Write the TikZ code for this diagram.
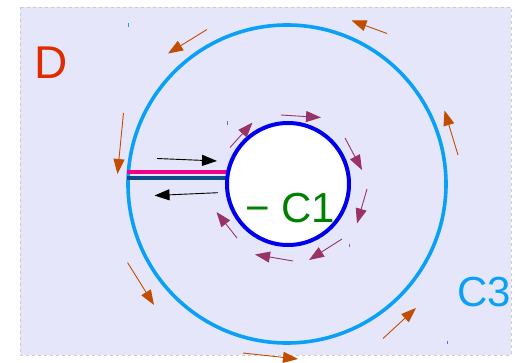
\documentclass[tikz,border=0pt]{standalone}
\usepackage{fontspec}
\setmainfont{Liberation Sans}
\usetikzlibrary{arrows.meta}
\definecolor{domainbg}{HTML}{E6E6FA}
\definecolor{outerblue}{HTML}{0AA0F5}
\definecolor{innerblue}{HTML}{0000EE}
\definecolor{cutnavy}{HTML}{104E8B}
\definecolor{innerflow}{HTML}{993366}
\definecolor{outerflow}{HTML}{C04D00}
\definecolor{labelred}{HTML}{E02B00}
\tikzset{
  flowarrow/.style={line width=0.9pt,-{Triangle[length=15pt,width=11pt]}},
  tinymark/.style={line width=1pt}
}
\begin{document}
\begin{tikzpicture}[x=1pt,y=-1pt]
    \useasboundingbox (0,0) rectangle (524,363);
    % Domain D
    \draw[dashed, draw=black!20, fill=domainbg] (20,7) rectangle (511,355);
    \node[text=labelred, font=\fontsize{46}{50}\selectfont] (labD) at (51,63) {D};

    % Outer contour C3
    \draw[outerblue, line width=3.6pt] (287,184) circle (159);
    \node[text=outerblue, font=\fontsize{42}{48}\selectfont] (labC) at (484,292) {C3};

    % Cut joining the two contours
    \draw[magenta, line width=3.6pt] (127,172.3) -- (227,172.3);
    \draw[cutnavy, line width=3.6pt] (127,177.8) -- (227,177.8);

    % Inner contour C1
    \draw[innerblue, fill=white, line width=4pt] (288,184) circle (61);
    \node[text=green!50!black, font=\fontsize{42}{48}\selectfont] (labA) at (290,208) {\textminus\ C1};

    % Orientation along the cut
    \draw[flowarrow, black] (157,158.5) -- (217,161);
    \draw[flowarrow, black] (218,192.7) -- (154.5,195.5);

    % Orientation of C1 (clockwise)
    \draw[flowarrow, innerflow] (281,115) -- (321,117.5);
    \draw[flowarrow, innerflow] (345,138) -- (362,170);
    \draw[flowarrow, innerflow] (367,189) -- (357,223.5);
    \draw[flowarrow, innerflow] (342,239) -- (309,260);
    \draw[flowarrow, innerflow] (293,261) -- (255,254.5);
    \draw[flowarrow, innerflow] (237,238) -- (216.5,212);
    \draw[flowarrow, innerflow] (230,147.5) -- (252.5,122.5);

    % Orientation of C3 (counter-clockwise)
    \draw[flowarrow, outerflow] (207,29.5) -- (168,53.5);
    \draw[flowarrow, outerflow] (123.5,113) -- (117.5,174);
    \draw[flowarrow, outerflow] (127.5,262.5) -- (154,305);
    \draw[flowarrow, outerflow] (243,353) -- (298,359);
    \draw[flowarrow, outerflow] (383,338.5) -- (416,308);
    \draw[flowarrow, outerflow] (458,155) -- (444.5,110.5);
    \draw[flowarrow, outerflow] (387,33.5) -- (351.5,20.5);

    % Small marks
    \draw[tinymark, outerblue] (128,23.5) -- (128,27);
    \draw[tinymark, innerblue!60] (227,121.5) -- (227,125);
    \draw[tinymark, innerblue!60] (349,243.5) -- (349,247);
    \draw[tinymark, innerblue!60] (447,340.5) -- (447,344);
\end{tikzpicture}
\end{document}
